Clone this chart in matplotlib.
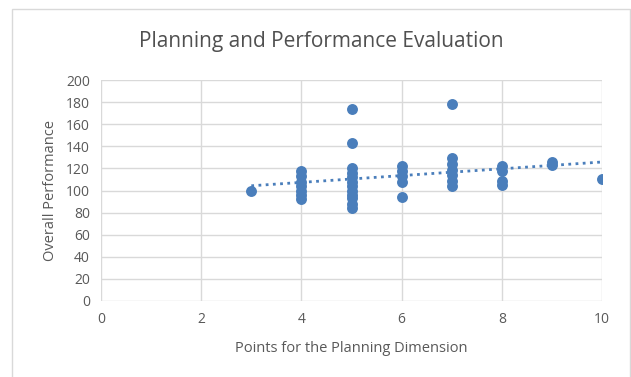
import numpy as np
import matplotlib.pyplot as plt
from matplotlib.patches import Rectangle

# Planning points and overall performance scores
planning = [3,
            4, 4, 4, 4, 4, 4, 4,
            5, 5, 5, 5, 5, 5, 5, 5, 5, 5, 5, 5,
            6, 6, 6, 6, 6,
            7, 7, 7, 7, 7, 7, 7,
            8, 8, 8, 8,
            9, 9,
            10]
performance = [100,
               118, 113, 108, 104, 100, 96, 92,
               174, 143, 120, 116, 112, 108, 104, 100, 96, 93, 88, 84,
               122, 118, 113, 108, 94,
               178, 129, 124, 119, 114, 109, 104,
               122, 118, 109, 105,
               126, 123,
               110]

x_ticks = [0, 2, 4, 6, 8, 10]
y_ticks = list(range(0, 201, 20))

font = "Open Sans"
text_col = "#595959"
blue = "#4a7ebb"

fig = plt.figure(figsize=(6.31, 3.77), dpi=100)
fig.patch.set_facecolor("white")

# chart frame
fig.patches.append(Rectangle((12 / 631, -0.05), (630 - 12) / 631, 1 - 9 / 377 + 0.05,
                             transform=fig.transFigure, fill=False,
                             edgecolor="#d9d9d9", linewidth=1.0))

ax = fig.add_axes([101 / 631, 1 - 301 / 377, (602 - 101) / 631, (301 - 80) / 377])
ax.set_xlim(0, 10)
ax.set_ylim(0, 200)
ax.set_xticks(x_ticks)
ax.set_yticks(y_ticks)
ax.grid(True, color="#d9d9d9", linewidth=1.0)
ax.set_axisbelow(True)
for s in ax.spines.values():
    s.set_visible(False)
ax.tick_params(length=0, labelsize=10, labelcolor=text_col, pad=8)
for lab in ax.get_xticklabels() + ax.get_yticklabels():
    lab.set_fontfamily(font)

ax.scatter(planning, performance, s=62, color=blue, zorder=3, linewidths=0)

# linear trendline
m, b = np.polyfit(planning, performance, 1)
xs = np.array([min(planning), max(planning)])
ax.plot(xs, m * xs + b, linestyle=(0, (1, 1.6)), color=blue, linewidth=2.0, zorder=2)

ax.set_xlabel("Points for the Planning Dimension", fontsize=10.5, color=text_col,
              fontfamily=font, labelpad=10)
ax.set_ylabel("Overall Performance", fontsize=10.5, color=text_col,
              fontfamily=font, labelpad=6)
fig.text(321 / 631, 1 - 42 / 377, "Planning and Performance Evaluation",
         ha="center", va="center", fontsize=15, color="#505050", fontfamily=font)

fig.savefig("out.png", dpi=100)
